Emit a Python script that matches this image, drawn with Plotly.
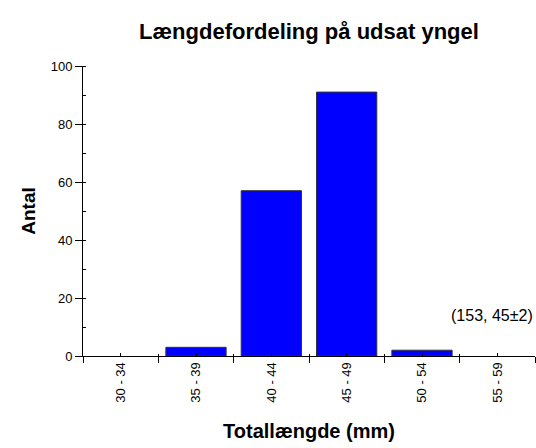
import plotly.graph_objects as go

categories = ["30 - 34", "35 - 39", "40 - 44", "45 - 49", "50 - 54", "55 - 59"]
counts = [0, 3, 57, 91, 2, 0]
title_text = "Længdefordeling på udsat yngel"
x_title = "Totallængde (mm)"
y_title = "Antal"
note_text = "(153, 45±2)"

FONT = "Arial, Liberation Sans, sans-serif"

outline_widths = [1 if c > 0 else 0 for c in counts]

fig = go.Figure()
fig.add_trace(go.Bar(
    x=categories, y=counts, width=0.8,
    marker=dict(color="#0000FF", line=dict(color="#333333", width=outline_widths)),
    showlegend=False, hoverinfo="x+y",
))
# invisible helper traces so overlay axes draw their ticks
for ax in ["x2", "x3"]:
    fig.add_trace(go.Scatter(x=categories, y=counts, xaxis=ax, mode="markers",
                             marker=dict(opacity=0), showlegend=False, hoverinfo="skip"))

common = dict(type="category", categoryorder="array", categoryarray=categories,
              range=[-0.5, 5.5])
fig.update_layout(
    width=536, height=448,
    margin=dict(l=83, r=1, t=66, b=92),
    paper_bgcolor="white", plot_bgcolor="white",
    font=dict(family=FONT, size=12, color="black"),
    bargap=0.2,
    title=dict(text="<b>" + title_text + "</b>", x=0.5, xref="paper", xanchor="center",
               y=1 - 31 / 448, yref="container", yanchor="middle",
               font=dict(size=22, family=FONT)),
    xaxis=dict(**common, tickson="boundaries", ticks="outside", ticklen=6, tickwidth=1,
               tickcolor="black", showline=True, linecolor="black", linewidth=1,
               showgrid=False, zeroline=False, tickangle=-90,
               tickfont=dict(size=13, family=FONT),
               title=dict(text="<b>" + x_title + "</b>", font=dict(size=20, family=FONT),
                          standoff=22)),
    xaxis2=dict(**common, overlaying="x", tickson="labels", ticks="inside", ticklen=3,
                tickcolor="black", showticklabels=False, showline=False, showgrid=False,
                zeroline=False),
    xaxis3=dict(**common, overlaying="x", tickson="boundaries", ticks="inside", ticklen=2,
                tickcolor="black", showticklabels=False, showline=False, showgrid=False,
                zeroline=False),
    yaxis=dict(range=[0, 100], dtick=20, tick0=0, ticks="outside", ticklen=7, tickwidth=1,
               tickcolor="black", showline=True, linecolor="black", linewidth=1,
               showgrid=False, zeroline=False,
               minor=dict(dtick=10, ticks="inside", ticklen=3, tickcolor="black", showgrid=False),
               tickfont=dict(size=13, family=FONT),
               title=dict(text="<b>" + y_title + "</b>", font=dict(size=19, family=FONT),
                          standoff=10)),
    annotations=[dict(text=note_text, xref="paper", x=1.0, xanchor="right",
                      yref="y", y=13.8, yanchor="middle", showarrow=False,
                      font=dict(size=16, family=FONT))],
)

fig.write_html("out.html")
